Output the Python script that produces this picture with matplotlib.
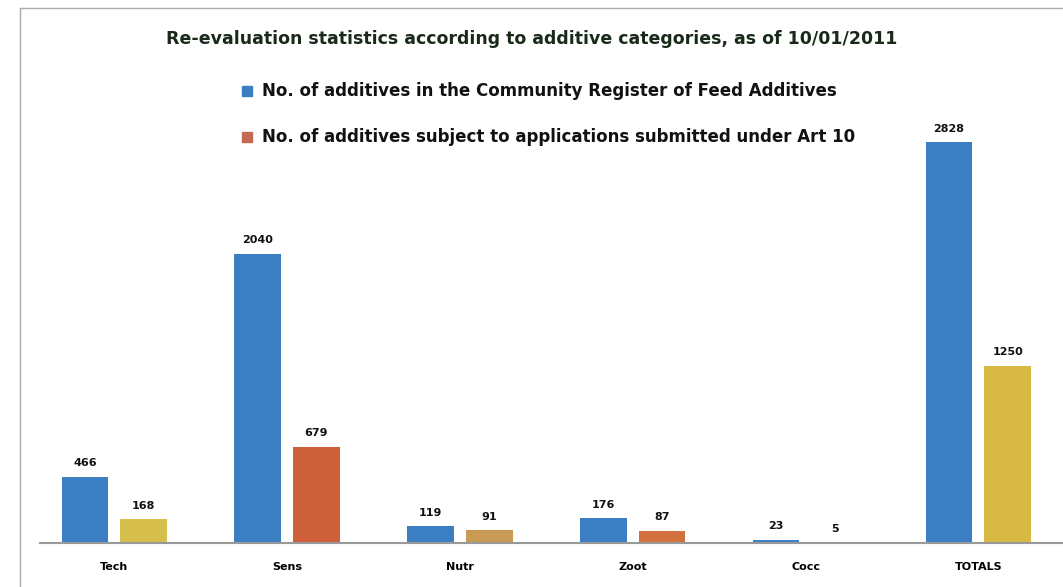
import matplotlib.pyplot as plt
import matplotlib.lines as mlines
import numpy as np

# Data
categories = ['Tech', 'Sens', 'Nutr', 'Zoot', 'Cocc', 'TOTALS']
register = [466, 2040, 119, 176, 23, 2828]
art10 = [168, 679, 91, 87, 5, 1250]

series1_label = 'No. of additives in the Community Register of Feed Additives'
series2_label = 'No. of additives subject to applications submitted under Art 10'
title = 'Re-evaluation statistics according to additive categories, as of 10/01/2011'

blue = '#3b7fc2'
orange_cols = ['#d6bf4c', '#cf603c', '#c99a55', '#d2713e', '#c98a4a', '#d7b944']

fig = plt.figure(figsize=(10.63, 5.87), dpi=100)
ax = fig.add_axes([40 / 1063, 44 / 587, 1023 / 1063, 425 / 587])

x = np.arange(len(categories))
w = 0.27
off = 0.17
ax.bar(x - off, register, width=w, color=blue)
ax.bar(x + off, art10, width=w, color=orange_cols)

for xi, v in zip(x, register):
    ax.text(xi - off, v + 60, str(v), ha='center', va='bottom',
            fontsize=8, fontweight='bold', color='#111111')
for xi, v in zip(x, art10):
    ax.text(xi + off, v + 60, str(v), ha='center', va='bottom',
            fontsize=8, fontweight='bold', color='#111111')

ax.set_xlim(-0.43, 5.49)
ax.set_ylim(0, 3000)
ax.set_xticks(x)
ax.set_xticklabels(categories, fontsize=8, fontweight='bold')
ax.tick_params(axis='x', length=0, pad=14)
ax.set_yticks([])
for s in ['top', 'right', 'left']:
    ax.spines[s].set_visible(False)
ax.spines['bottom'].set_color('#999999')
ax.spines['bottom'].set_linewidth(1.5)

# title and legend as figure text
fig.text(532 / 1063, 1 - 39 / 587, title, ha='center', va='center',
         fontsize=12.5, fontweight='bold', color='#1a2a1a')
fig.text(262 / 1063, 1 - 91 / 587, series1_label, ha='left', va='center',
         fontsize=12, fontweight='bold', color='#111111')
fig.text(262 / 1063, 1 - 137 / 587, series2_label, ha='left', va='center',
         fontsize=12, fontweight='bold', color='#111111')
fig.patches.append(plt.Rectangle((242 / 1063, 1 - 96 / 587), 10 / 1063, 10 / 587,
                                 transform=fig.transFigure, color=blue))
fig.patches.append(plt.Rectangle((242 / 1063, 1 - 142 / 587), 10 / 1063, 10 / 587,
                                 transform=fig.transFigure, color='#c46a52'))

# frame lines of the scanned box
fig.add_artist(mlines.Line2D([20 / 1063, 1], [1 - 8 / 587, 1 - 8 / 587],
                             color='#aaaaaa', lw=1))
fig.add_artist(mlines.Line2D([20 / 1063, 20 / 1063], [0, 1 - 8 / 587],
                             color='#aaaaaa', lw=1))

fig.savefig('out.png', dpi=100)
